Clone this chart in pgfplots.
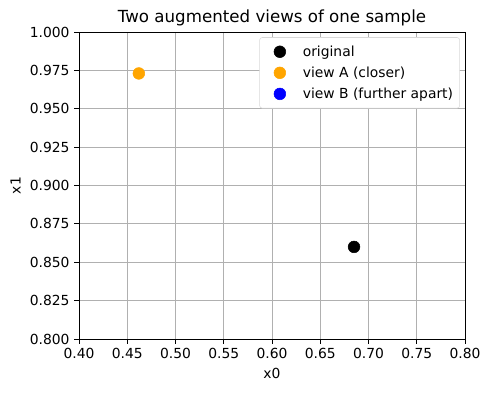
\documentclass[border=0pt]{standalone}
\usepackage{pgfplots}
\pgfplotsset{compat=1.18}
\usepackage{fontspec}
\setmainfont{DejaVu Sans}
\begin{document}
\begin{tikzpicture}[x=0.75pt,y=0.75pt]
\begin{axis}[
  scale only axis,
  width=289.5pt, height=230.25pt,
  xmin=0.40, xmax=0.80, ymin=0.80, ymax=1.00,
  xtick={0.40,0.45,...,0.801},
  ytick={0.800,0.825,...,1.001},
  xticklabel style={/pgf/number format/.cd,fixed,fixed zerofill,precision=2},
  yticklabel style={/pgf/number format/.cd,fixed,fixed zerofill,precision=3},
  /pgf/number format/assume math mode=true,
  tick label style={font=\fontsize{10.4}{12}\selectfont},
  label style={font=\fontsize{10.4}{12}\selectfont},
  title style={font=\fontsize{12.5}{14}\selectfont, yshift=-5pt},
  title={Two augmented views of one sample},
  xlabel={x0}, ylabel={x1},
  grid=major,
  major grid style={color=black!31, line width=0.6pt},
  axis line style={line width=0.6pt},
  tick style={color=black, line width=0.6pt},
  tick align=outside, major tick length=3.6pt,
  xtick pos=bottom, ytick pos=left,
  legend style={font=\fontsize{10.4}{12}\selectfont, draw=black!15, rounded corners=2pt,
    at={(0.987,0.983)}, anchor=north east, inner xsep=3pt, inner ysep=4pt, row sep=2.4pt},
  legend cell align=left,
  legend image code/.code={\path (0pt,0pt) (27pt,0pt); \draw[#1] plot coordinates {(12pt,0pt)};},
  clip=true,
]
\addplot[only marks, mark=*, mark size=4.4pt, color=black] coordinates {(0.685,0.860)};
\addlegendentry{original}
\addplot[only marks, mark=*, mark size=4.4pt, color={rgb,255:red,255;green,165;blue,0}] coordinates {(0.462,0.973)};
\addlegendentry{view A (closer)}
\addplot[only marks, mark=*, mark size=4.4pt, color=blue] coordinates {(0.20,1.20)};
\addlegendentry{view B (further apart)}
\end{axis}
\path (current axis.south west) ++(-79,-54) coordinate (bl);
\path (current axis.north east) ++(26,32) coordinate (tr);
\useasboundingbox (bl) rectangle (tr);
\end{tikzpicture}
\end{document}
